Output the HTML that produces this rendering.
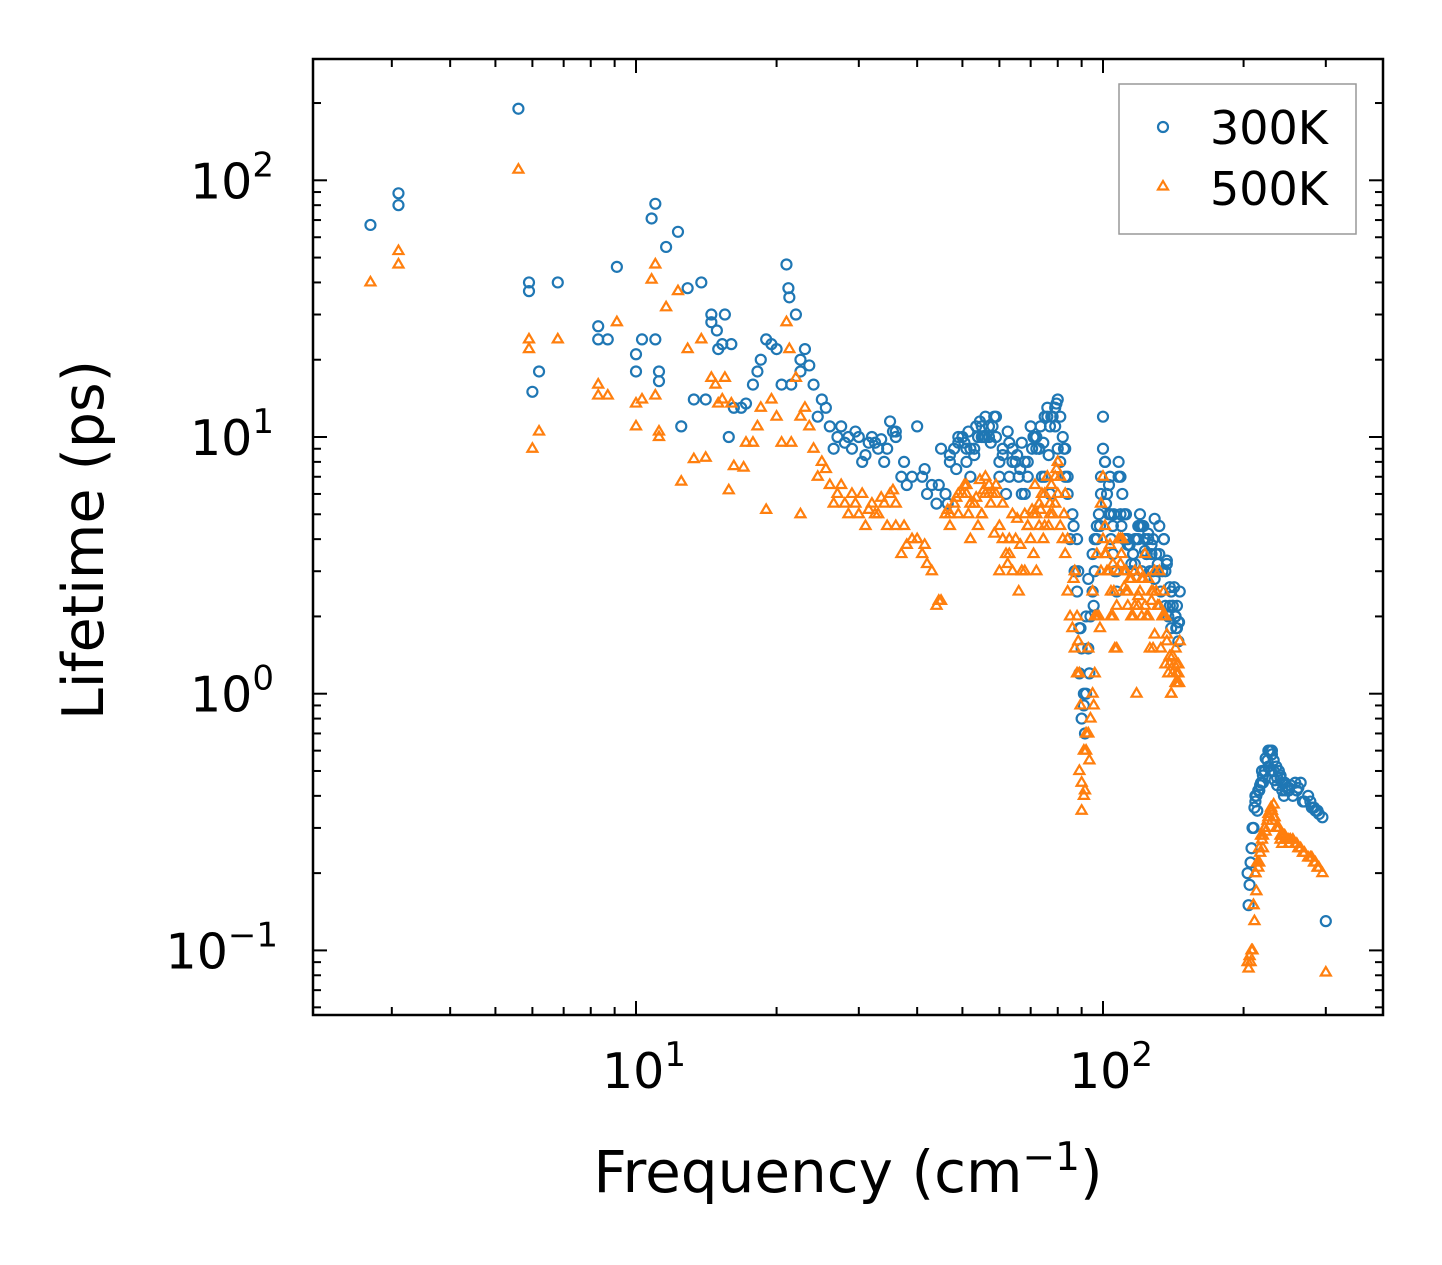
<!DOCTYPE html>
<html><head><meta charset="utf-8"><style>
html,body{margin:0;padding:0;background:#fff;}
svg{display:block;font-family:"DejaVu Sans","Liberation Sans",sans-serif;}
</style></head><body>
<svg id="chart" width="1442" height="1265" viewBox="0 0 1442 1265" xmlns="http://www.w3.org/2000/svg">
<rect width="1442" height="1265" fill="#fff"/>
<g id="marks"></g>
<g id="ticks"></g>
<rect x="313" y="59" width="1070" height="956" fill="none" stroke="#000" stroke-width="2.5"/>
<text x="848" y="1192" font-size="58" text-anchor="middle">Frequency (cm<tspan dy="-22" font-size="39">−1</tspan><tspan dy="22">)</tspan></text>
<text transform="translate(103,540) rotate(-90)" font-size="57" text-anchor="middle">Lifetime (ps)</text>
<g>
<rect x="1119" y="84" width="237" height="150" fill="#fff" stroke="#999" stroke-width="1.5"/>
<circle cx="1163" cy="127" r="5" fill="none" stroke="#1f77b4" stroke-width="2.2"/>
<text x="1210" y="144" font-size="46">300K</text>
<path d="M1163,181 l5,8.5 h-10 z" fill="none" stroke="#ff7f0e" stroke-width="2.2"/>
<text x="1210" y="205" font-size="46">500K</text>
</g>
</svg>
<script>
const f300=[2.7,3.1,3.1,5.6,5.9,5.9,6.0,6.2,6.8,8.3,8.3,8.7,9.1,10,10,10.3,10.8,11,11,11.2,11.2,11.6,12.3,12.5,12.9,13.3,13.8,14.1,14.5,14.5,14.9,15,15.3,15.5,15.8,16,16.2,16.8,17.2,17.8,18.2,18.5,19,19.5,20,20.5,21,21.2,21.3,21.5,22,22.5,23,24,24.5,25,26,27,28,29,30,31,32,33,34,35,36,37,38,40,41,42,44,46,48,50,52,54,56,58,60,62,64,66,68,70,72,74,76,78,80,82,84,86,88,90,90,92,94,96,98,100,100,102,104,106,108,110,112,115,118,120,125,128,132,136,140,143,145,205,208,212,218,222,228,232,238,245,255,265,275,285,295,300,
26.5,28.5,30.5,32.5,34.5,36,39,43,45,47,49,51,53,55,57,59,61,63,65,67,69,71,73,75,77,79,81,83,85,87,89,91,93,95,97,99,101,103,105,107,109,111,113,116,119,122,124,126,130,134,138,141,144,146,204,206,210,214,216,220,225,230,235,240,242,250,260,270,280,290,
52,56,60,64,68,72,76,80,84,88,92,96,104,108,112,116,120,124,128,132,136,140,144,210,220,230,240,250,
22.5,23.5,25.5,27.5,29.5,31.5,33.5,35.5,37.5,41.5,44.5,46.5,48.5,50.5,51.5,53.5,54.5,55.5,57.5,58.5,62.5,65.5,66.5,70.5,71.5,73.5,74.5,76.5,77.5,79.5,82.5,86.5,88.5,89.5,91.5,93.5,95.5,98.5,101.5,103.5,105.5,109.5,114,117,121,123,127,129,131,135,137,139,142,145.5,143.5,207,209,211,213,215,217,219,223,226,229,233,236,244,248,252,258,262,268,278,283,288,
47,49,51,53,55,57,59,61,63,67,69,71,73,75,77,79,81,83,87,89,91,93,95,97,99,101,103,105,107,109,111,113,115,117,119,121,123,125,127,129,131,133,135,137,139,141,143,145,212,216,222,226,232,236,242,246];
const t300=[67,89,80,190,40,37,15,18,40,27,24,24,46,21,18,24,71,81,24,18,16.5,55,63,11,38,14,40,14,30,28,26,22,23,30,10,23,13,13,13.5,16,18,20,24,23,22,16,47,38,35,16,30,18,22,16,12,14,11,10,9.5,9,10,8.5,10,9,8,11.5,10,7,6.5,11,7,6,5.5,6,9,10,9,10,12,11,8,6,9,7,8,11,10,7,13,12,14,10,6,5,2.5,1.5,0.8,1,2,3,5,12,9,6,4,3,8,6,5,3,4,5,4,3,4.5,3,2.5,2,1.6,0.15,0.25,0.4,0.45,0.5,0.6,0.55,0.5,0.45,0.4,0.45,0.4,0.35,0.33,0.13,
9,10,8,9.5,9,10.5,7,6.5,9,8,10,8,9,11,10,12,9,7,8,6,7,10,9,12,11,13,8,7,4,3,1.2,0.9,1.5,2.5,4,6,8,5,3.5,2.5,7,5,4,3.5,4,4.5,3.5,3,3.5,3,2,2.2,1.8,2.5,0.2,0.18,0.3,0.35,0.42,0.48,0.55,0.58,0.52,0.47,0.42,0.43,0.42,0.38,0.36,0.34,
7,10,7,8,6,9,12,9,7,4,2,4,5,7,4,3.5,4.5,3.5,4,3.5,2.2,1.8,2.2,0.3,0.45,0.6,0.48,0.42,
20,19,13,11,10.5,9.5,9.8,10.5,8,7.5,6.5,5.5,7.5,9.5,10.5,11,11.5,10,9.5,12,10.5,8.5,7.5,9,10,11,9.5,8.5,12,13.5,9,4.5,3,1.8,0.7,1.2,2.2,4.5,5.5,7,5,4.5,3.8,3.2,4.5,4,3.5,2.8,3.2,4,3.3,2.2,2.6,1.9,1.8,0.22,0.3,0.36,0.4,0.42,0.44,0.5,0.56,0.6,0.5,0.46,0.44,0.4,0.43,0.44,0.45,0.43,0.38,0.38,0.36,0.35,
8.5,9.5,9,8.5,10,11,10,8.5,9.5,9.5,8,10,9,7,6,11,12,9,3,1.8,1,2.8,3.5,4.5,7,8,6.5,4.5,3,5,4,3.8,3.2,4,4.5,3,3.6,4.2,3.8,4.8,3,2.5,4,3.2,2.6,2.2,2,1.9,0.38,0.42,0.5,0.52,0.5,0.47,0.45,0.42];
const f500=[2.7,3.1,3.1,5.6,5.9,5.9,6.0,6.2,6.8,8.3,8.3,8.7,9.1,10,10,10.3,10.8,11,11,11.2,11.2,11.6,12.3,12.5,12.9,13.3,13.8,14.1,14.5,14.8,15,15.3,15.5,15.8,16,16.2,17,17.2,17.8,18.2,18.5,19,19.5,20,20.5,21,21.3,21.5,22,22.5,23,24,24.5,25,26,27,28,29,30,31,32,33,34,35,36,37,38,40,41,42,44,46,48,50,52,54,56,58,60,62,64,66,68,70,72,74,76,78,80,82,84,86,88,90,90,92,94,96,98,100,100,102,104,106,108,110,112,115,118,120,125,128,132,136,140,143,145,205,208,212,218,222,228,232,238,245,255,265,275,285,295,300,
26.5,28.5,30.5,32.5,34.5,36,39,43,45,47,49,51,53,55,57,59,61,63,65,67,69,71,73,75,77,79,81,83,85,87,89,91,93,95,97,99,101,103,105,107,109,111,113,116,119,122,124,126,130,134,138,141,144,146,204,206,210,214,216,220,225,230,235,240,242,250,260,270,280,290,
52,56,60,64,68,72,76,80,84,88,92,96,104,108,112,116,120,124,128,132,136,140,144,210,220,230,240,250,
22.5,23.5,25.5,27.5,29.5,31.5,33.5,35.5,37.5,41.5,44.5,46.5,48.5,50.5,51.5,53.5,54.5,55.5,57.5,58.5,62.5,65.5,66.5,70.5,71.5,73.5,74.5,76.5,77.5,79.5,82.5,86.5,88.5,89.5,91.5,93.5,95.5,98.5,101.5,103.5,105.5,109.5,114,117,121,123,127,129,131,135,137,139,142,145.5,143.5,207,209,211,213,215,217,219,223,226,229,233,236,244,248,252,258,262,268,278,283,288,
47,49,51,53,55,57,59,61,63,67,69,71,73,75,77,79,81,83,87,89,91,93,95,97,99,101,103,105,107,109,111,113,115,117,119,121,123,125,127,129,131,133,135,137,139,141,143,145,212,216,222,226,232,236,242,246];
const t500=[40,53,47,110,24,22,9,10.5,24,16,14.5,14.5,28,13.5,11,14,41,47,14.5,10.5,10,32,37,6.7,22,8.2,24,8.3,17,16,13.5,14,17,6.2,13.5,7.7,7.6,9.5,9.5,11,13,5.2,14,12,9.5,28,22,9.5,17,5,13,9,7,8,6.5,6,5.5,6,5,4.5,5.5,5,5.5,6,4.5,3.5,3.8,4,3.5,3.2,2.2,5,5.5,6,5.5,4.5,7,6,4.5,3.5,3,2.5,5,4,3,6,7,5,8,4,2.5,1.8,1.2,0.45,0.35,0.6,0.8,1.2,2,7,4,3,2,1.5,3,4,3,2,1,2.5,2,1.5,3,2,1,1.5,1.2,0.085,0.1,0.2,0.28,0.3,0.35,0.37,0.3,0.28,0.27,0.25,0.23,0.22,0.2,0.082,
5.5,5,6,5,4.5,5.5,4,3,2.3,5,5,6,5.5,5,6.5,6,4,3.5,4,3,4.5,5,4.5,6,5.5,7,4.5,3.5,2,1.5,0.5,0.4,0.7,1,2,3,4.5,3,2,1.5,4,3,2.5,2,2.2,2.8,2,1.5,2.5,2,1.2,1.4,1.1,1.6,0.09,0.095,0.15,0.22,0.25,0.28,0.32,0.35,0.3,0.27,0.26,0.27,0.26,0.24,0.23,0.21,
4,6,3,5,3,5,7,6,4,2,0.7,2,2.5,4,2.5,2,3,2,2.5,2.2,1.3,1,1.3,0.15,0.25,0.32,0.28,0.26,
12,11,7.5,6.5,5.5,5.2,5.8,6.2,4.5,3.8,2.3,5.2,5.8,6.5,5,5.8,6.8,6.2,5.5,4.2,3.2,4.8,3.8,5.2,6.5,5.2,4,4.5,6.5,7.5,5,2.8,1.6,0.9,0.42,0.55,0.9,1.8,3.5,3.8,2.5,3.5,2.8,2.2,2.8,3.5,2.3,1.7,2.2,2.5,1.6,1.3,1.3,1.1,1.2,0.09,0.1,0.13,0.17,0.21,0.24,0.27,0.29,0.33,0.36,0.33,0.3,0.28,0.27,0.27,0.26,0.25,0.24,0.23,0.22,0.21,
4.5,6,6.5,5.5,5,6,6.5,5.5,4,3,4.5,3.5,5.5,4.5,5,5.5,7,6,3,1.2,0.6,1.5,2.5,3.5,5.5,3.5,3,3.2,2.2,3.2,2.6,2.2,2.8,3,2.4,2,2.2,2.8,2.5,3,2.2,1.5,2,1.7,1.4,1.2,1.1,1.3,0.2,0.22,0.3,0.34,0.33,0.3,0.28,0.27];

const X0=636,XD=467,Y0=437,YD=256.7;
const xs=v=>X0+(Math.log10(v)-1)*XD;
const ys=v=>Y0-(Math.log10(v)-1)*YD;
const NS='http://www.w3.org/2000/svg';
const marks=document.getElementById('marks');
const g3=document.createElementNS(NS,'g');


const g5=document.createElementNS(NS,'g');


marks.appendChild(g3);marks.appendChild(g5);
f300.forEach((f,i)=>{
 if(t300[i]===undefined)return;
 const c=document.createElementNS(NS,'circle');
 
 
 c.setAttribute('cx',xs(f));c.setAttribute('cy',ys(t300[i]));c.setAttribute('r',5);
 c.setAttribute('fill','none');c.setAttribute('stroke','#1f77b4');c.setAttribute('stroke-width',2.2);
 g3.appendChild(c);
});
f500.forEach((f,i)=>{
 if(t500[i]===undefined)return;
 const p=document.createElementNS(NS,'path');
 
 
 const x=xs(f),y=ys(t500[i]);
 p.setAttribute('d',`M${x},${y-5.5} l5,8.5 h-10 z`);
 p.setAttribute('fill','none');p.setAttribute('stroke','#ff7f0e');p.setAttribute('stroke-width',2.2);
 g5.appendChild(p);
});
const ticks=document.getElementById('ticks');
function line(x1,y1,x2,y2,name){
 const l=document.createElementNS(NS,'line');
 
 
 l.setAttribute('x1',x1);l.setAttribute('y1',y1);l.setAttribute('x2',x2);l.setAttribute('y2',y2);
 l.setAttribute('stroke','#000');l.setAttribute('stroke-width',2);
 ticks.appendChild(l);
}
function label(x,y,base,exp,anchor,name){
 const t=document.createElementNS(NS,'text');
 
 
 t.setAttribute('x',x);t.setAttribute('y',y);t.setAttribute('font-size',49);t.setAttribute('text-anchor',anchor);
 t.innerHTML=base+'<tspan dy="-22" font-size="34">'+exp+'</tspan>';
 ticks.appendChild(t);
}
const xMajor=[10,100];
const xMajorLabels=['1','2'];
const xMinor=[3,4,5,6,7,8,9,20,30,40,50,60,70,80,90,200,300];
xMajor.forEach((v,i)=>{const x=xs(v);line(x,1015,x,1001,'x-major-tick');line(x,59,x,73,'x-major-tick-top');label(x+8,1088,'10',xMajorLabels[i],'middle','x-tick-label');});
xMinor.forEach(v=>{const x=xs(v);line(x,1015,x,1007,'x-minor-tick');line(x,59,x,67,'x-minor-tick-top');});
const yMajor=[0.1,1,10,100];
const yMajorLabels=['−1','0','1','2'];
const yMinor=[0.06,0.07,0.08,0.09,0.2,0.3,0.4,0.5,0.6,0.7,0.8,0.9,2,3,4,5,6,7,8,9,20,30,40,50,60,70,80,90,200];
yMajor.forEach((v,i)=>{const y=ys(v);line(313,y,327,y,'y-major-tick');line(1383,y,1369,y,'y-major-tick-right');label(i==0?278:274,y+18,'10',yMajorLabels[i],'end','y-tick-label');});
yMinor.forEach(v=>{const y=ys(v);line(313,y,321,y,'y-minor-tick');line(1383,y,1375,y,'y-minor-tick-right');});
</script>
</body></html>
